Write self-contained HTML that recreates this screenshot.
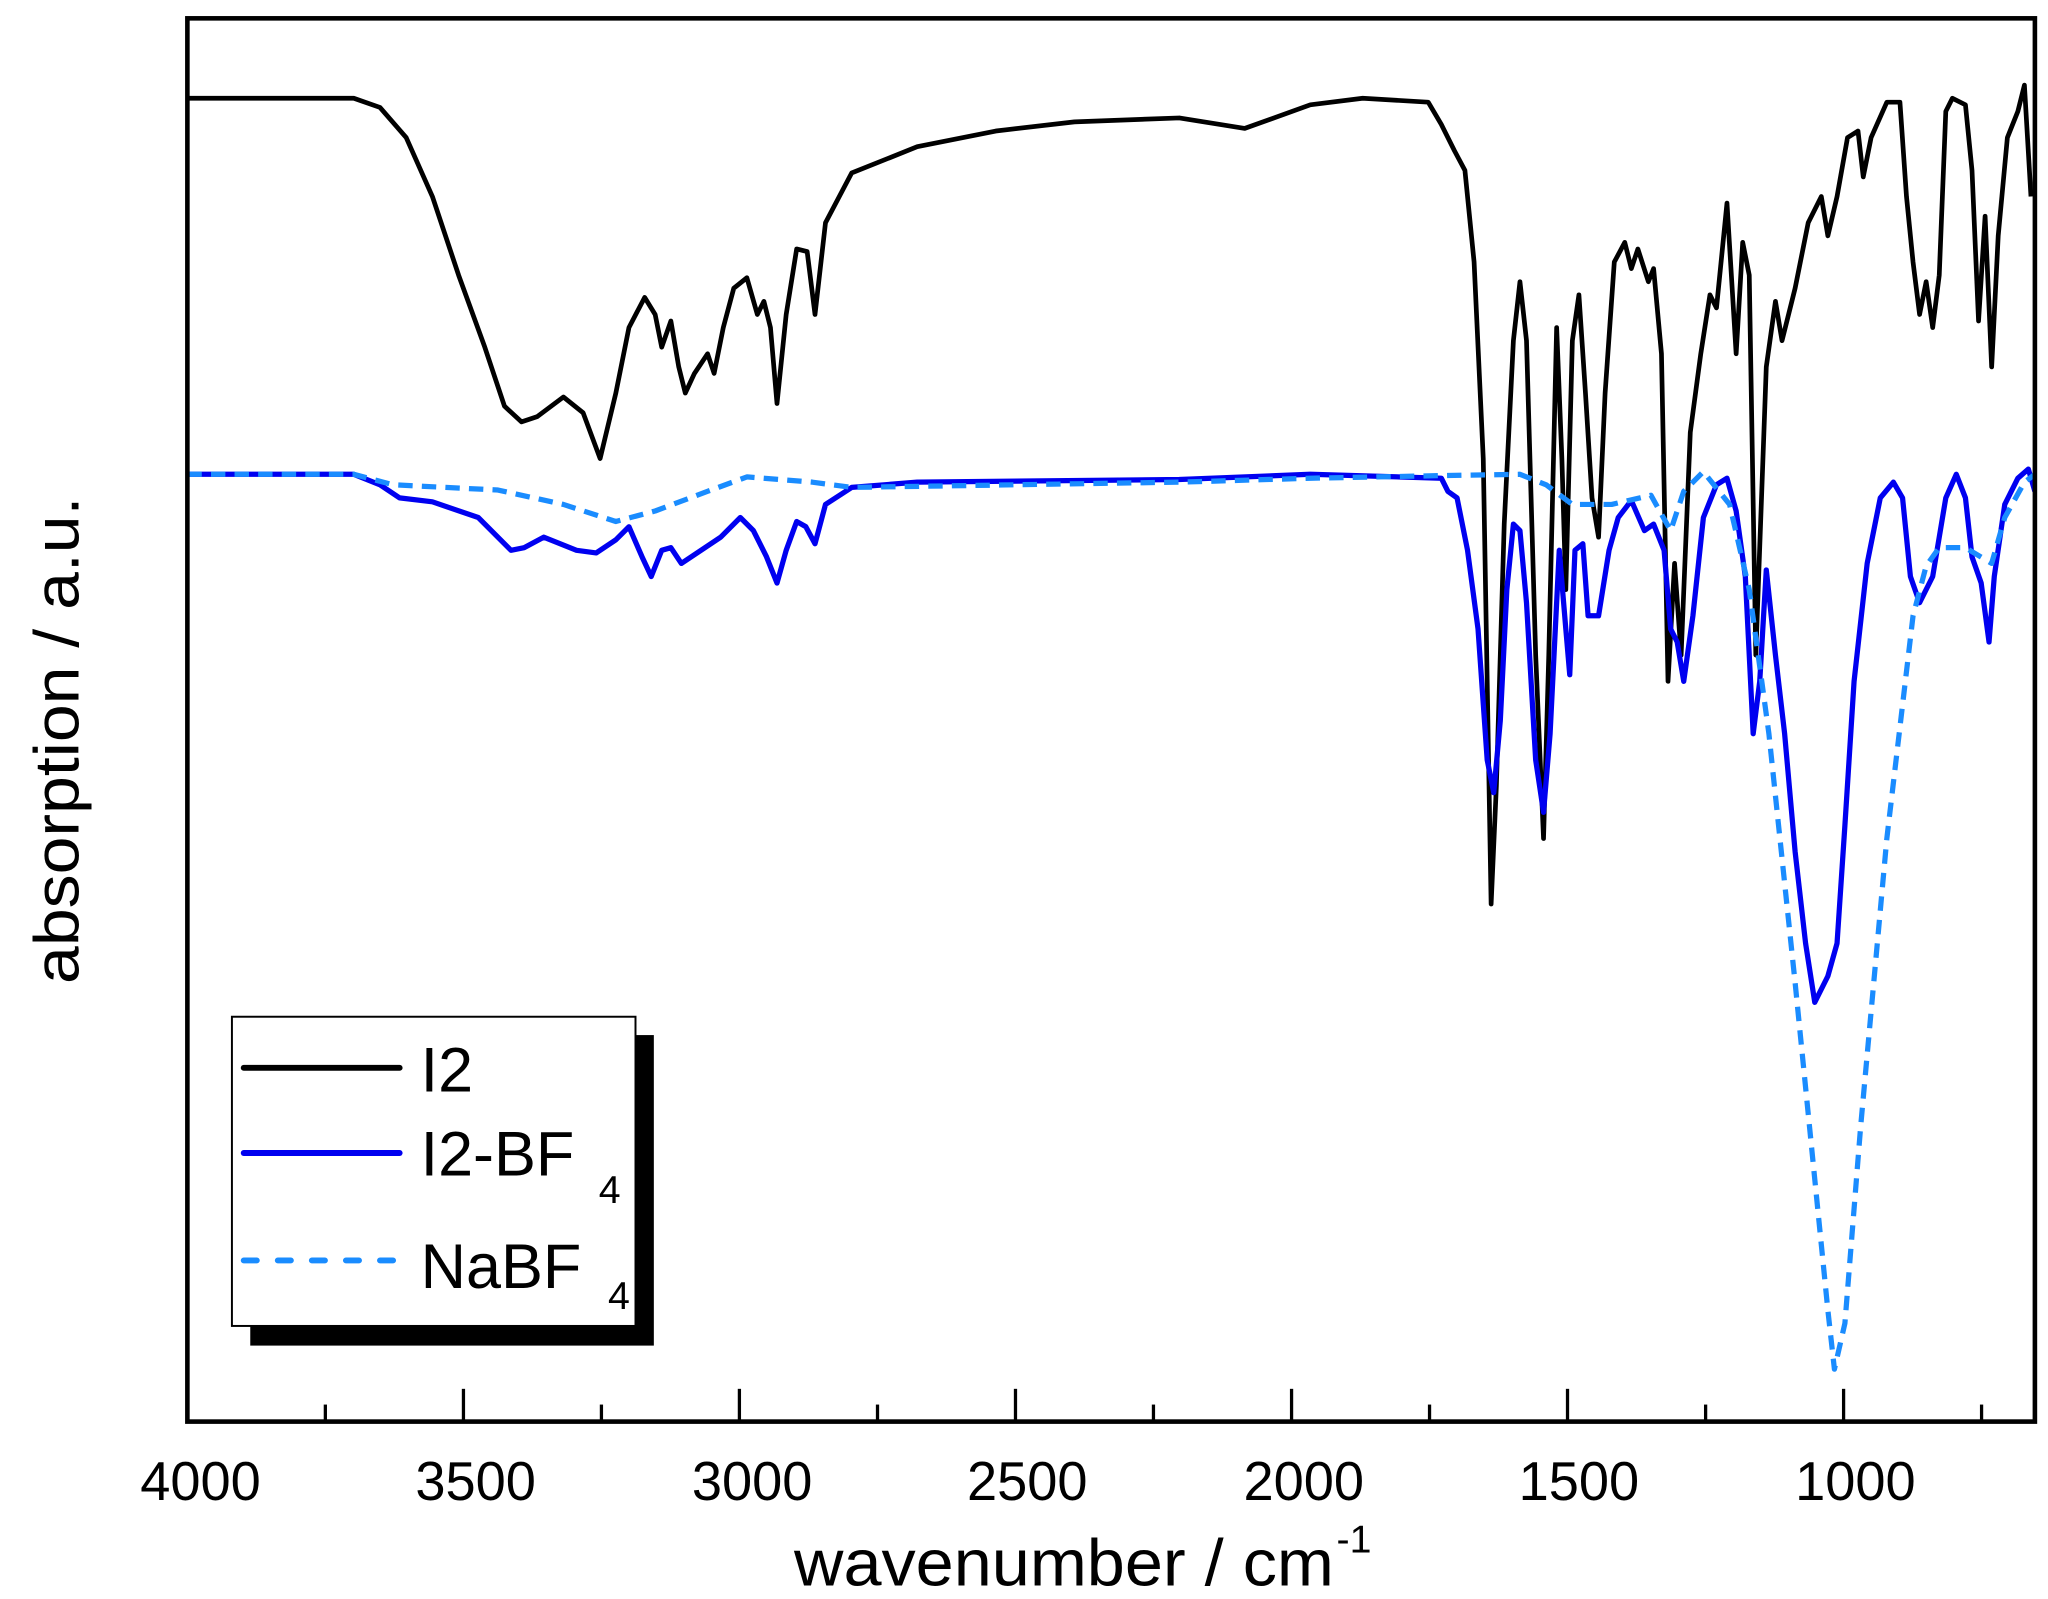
<!DOCTYPE html>
<html><head><meta charset="utf-8"><style>
html,body{margin:0;padding:0;background:#fff;}
svg{display:block;}
text{font-family:"Liberation Sans",Arial,sans-serif;fill:#000;}
</style></head><body>
<svg width="2048" height="1599" viewBox="0 0 1563 1220.4" preserveAspectRatio="none">
<rect width="1563" height="1220.4" fill="#fff"/>
<defs><clipPath id="c"><rect x="143" y="14" width="1410" height="1071"/></clipPath></defs>
<g clip-path="url(#c)" fill="none" stroke-linejoin="round">
<polyline stroke="#000" stroke-width="3.6" points="143,75 270,75 290,82 310,105 330,150 350,210 370,265 385,310 398,322 410,318 430,303 445,315 458,350 470,300 480,250 492,227 500,240 505,265 512,245 518,280 523,300 530,285 540,270 545,285 552,250 560,220 570,212 578,240 583,230 588,250 593,308 600,240 608,190 616,192 622,240 630,170 650,132 700,112 760,100 820,93 900,90 950,98 1000,80 1040,75 1090,78 1100,95 1110,115 1118,130 1125,200 1132,350 1138,690 1142,600 1148,400 1155,260 1160,215 1165,260 1172,500 1178,640 1182,500 1188,250 1192,350 1195,450 1200,260 1205,225 1210,300 1215,380 1220,410 1225,300 1232,200 1240,185 1245,205 1250,190 1258,215 1262,205 1268,270 1273,520 1278,430 1283,500 1290,330 1298,270 1305,225 1310,235 1318,155 1325,270 1330,185 1335,210 1340,500 1348,280 1355,230 1360,260 1370,220 1380,170 1390,150 1395,180 1402,150 1410,105 1418,100 1422,135 1428,105 1440,78 1450,78 1455,150 1460,200 1465,240 1470,215 1475,250 1480,210 1485,85 1490,75 1500,80 1505,130 1510,245 1515,165 1520,280 1525,180 1532,105 1540,85 1545,65 1550,150"/>
<polyline stroke="#0000f0" stroke-width="4" points="143,362 270,362 290,370 305,380 330,383 365,395 390,420 400,418 415,410 440,420 455,422 470,412 480,402 490,425 497,440 505,420 512,418 520,430 535,420 550,410 565,395 575,405 585,425 593,445 600,420 608,398 615,402 622,415 630,385 650,372 700,368 900,366 1000,362 1100,365 1105,375 1112,380 1120,420 1128,480 1135,580 1140,605 1145,550 1150,450 1155,400 1160,405 1165,460 1172,580 1178,620 1183,560 1190,420 1195,480 1198,515 1202,420 1208,415 1212,470 1220,470 1228,420 1235,395 1245,382 1255,405 1262,400 1270,420 1275,480 1280,490 1285,520 1292,470 1300,395 1310,370 1318,365 1325,390 1332,440 1338,560 1343,520 1348,435 1355,500 1362,560 1370,650 1378,720 1385,765 1395,745 1402,720 1408,630 1415,520 1425,430 1435,380 1445,368 1452,380 1458,440 1465,460 1475,440 1485,380 1493,362 1500,380 1505,425 1512,445 1518,490 1522,440 1530,385 1540,365 1548,358 1553,375"/>
<polyline stroke="#1a8cff" stroke-width="4" stroke-dasharray="11,7" points="143,362 270,362 300,370 380,374 430,385 470,398 500,390 540,375 570,364 620,368 650,372 900,368 1000,365 1100,363 1160,362 1180,370 1200,385 1230,385 1260,378 1275,405 1285,375 1300,360 1320,385 1335,450 1350,560 1370,750 1385,900 1395,1000 1400,1045 1408,1010 1420,860 1440,640 1460,470 1470,432 1480,418 1500,418 1520,430 1530,395 1545,368 1553,362"/>
</g>
<rect x="143" y="14" width="1410" height="1071" fill="none" stroke="#000" stroke-width="3.5"/>
<g stroke="#000" stroke-width="2.5">
<line x1="143" y1="1085" x2="143" y2="1060"/><line x1="248.3" y1="1085" x2="248.3" y2="1072"/>
<line x1="353.7" y1="1085" x2="353.7" y2="1060"/><line x1="459" y1="1085" x2="459" y2="1072"/>
<line x1="564.3" y1="1085" x2="564.3" y2="1060"/><line x1="669.7" y1="1085" x2="669.7" y2="1072"/>
<line x1="775" y1="1085" x2="775" y2="1060"/><line x1="880.3" y1="1085" x2="880.3" y2="1072"/>
<line x1="985.7" y1="1085" x2="985.7" y2="1060"/><line x1="1091" y1="1085" x2="1091" y2="1072"/>
<line x1="1196.3" y1="1085" x2="1196.3" y2="1060"/><line x1="1301.7" y1="1085" x2="1301.7" y2="1072"/>
<line x1="1407" y1="1085" x2="1407" y2="1060"/><line x1="1512.3" y1="1085" x2="1512.3" y2="1072"/>
</g>
<g font-size="42" text-anchor="middle">
<text x="153" y="1145" textLength="92" lengthAdjust="spacingAndGlyphs">4000</text>
<text x="363" y="1145" textLength="92" lengthAdjust="spacingAndGlyphs">3500</text>
<text x="574" y="1145" textLength="92" lengthAdjust="spacingAndGlyphs">3000</text>
<text x="784" y="1145" textLength="92" lengthAdjust="spacingAndGlyphs">2500</text>
<text x="995" y="1145" textLength="92" lengthAdjust="spacingAndGlyphs">2000</text>
<text x="1205" y="1145" textLength="92" lengthAdjust="spacingAndGlyphs">1500</text>
<text x="1416" y="1145" textLength="92" lengthAdjust="spacingAndGlyphs">1000</text>
</g>
<text x="606" y="1210" font-size="50" textLength="412" lengthAdjust="spacingAndGlyphs">wavenumber / cm</text>
<text x="1020" y="1185" font-size="30">-1</text>
<text transform="translate(60,565) rotate(-90)" font-size="48" text-anchor="middle" textLength="372" lengthAdjust="spacingAndGlyphs">absorption / a.u.</text>
<rect x="191" y="790" width="308" height="237" fill="#000"/>
<rect x="177" y="776" width="308" height="236" fill="#fff" stroke="#000" stroke-width="1.5"/>
<line x1="186" y1="815" x2="305" y2="815" stroke="#000" stroke-width="4.5" stroke-linecap="round"/>
<line x1="186" y1="880" x2="305" y2="880" stroke="#0000f0" stroke-width="4.5" stroke-linecap="round"/>
<line x1="186" y1="962" x2="305" y2="962" stroke="#1a8cff" stroke-width="4.5" stroke-linecap="round" stroke-dasharray="10,16"/>
<g font-size="48">
<text x="321" y="833">I2</text>
<text x="321" y="897">I2-BF</text>
<text x="457" y="918" font-size="30">4</text>
<text x="321" y="983">NaBF</text>
<text x="464" y="999" font-size="30">4</text>
</g>
</svg>
</body></html>
